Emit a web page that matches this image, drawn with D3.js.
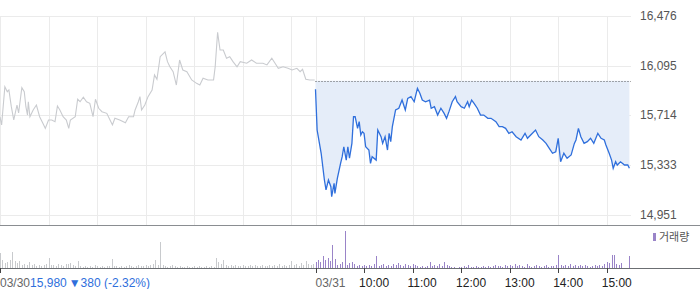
<!DOCTYPE html>
<html>
<meta charset="utf-8">
<title>Intraday</title>
<style>
body { margin: 0; background: #fff; }
svg { display: block; font-family: "Liberation Sans", Arial, sans-serif; }
.grid line { stroke: #ebebeb; stroke-width: 1px; shape-rendering: crispEdges; }
.yaxis text { fill: #555; font-size: 12px; }
</style>
<script src="https://d3js.org/d3.v7.min.js"></script>
<body>
<script>
// [minutes since 09:00, price]
const day1 = [[0,15702],[2,15641],[6,15934],[9,15896],[11,15909],[14,15781],[17,15679],[21,15794],[23,15733],[27,15927],[30,15896],[32,15781],[34,15717],[35,15819],[37,15704],[41,15756],[45,15794],[49,15704],[53,15654],[56,15615],[60,15679],[64,15679],[68,15666],[71,15786],[74,15756],[78,15704],[82,15679],[85,15615],[87,15679],[93,15704],[96,15838],[99,15819],[103,15853],[107,15819],[111,15807],[115,15704],[118,15838],[122,15769],[126,15743],[132,15730],[136,15679],[139,15641],[142,15692],[148,15679],[155,15658],[159,15704],[165,15704],[167,15756],[171,15819],[173,15858],[175,15756],[179,15794],[183,15858],[188,15909],[191,16024],[194,15991],[198,16164],[204,16202],[207,16126],[210,16087],[214,16049],[218,15947],[222,16139],[226,16062],[231,16049],[237,15986],[243,15960],[247,15947],[251,15999],[257,15986],[264,15986],[266,16087],[269,16351],[272,16215],[276,16215],[280,16152],[284,16164],[288,16126],[293,16087],[297,16126],[305,16114],[311,16139],[317,16114],[325,16114],[330,16101],[336,16152],[340,16114],[344,16075],[350,16087],[356,16075],[361,16062],[367,16075],[371,16049],[374,16068],[378,15991],[383,15986],[389,15986]];
const day2 = [[0,15914],[2,15602],[7,15424],[11,15219],[13,15143],[16,15219],[19,15168],[20,15091],[23,15194],[24,15117],[27,15232],[31,15347],[33,15398],[35,15474],[38,15372],[40,15474],[42,15386],[45,15500],[47,15704],[49,15704],[52,15615],[54,15666],[56,15564],[58,15589],[60,15577],[62,15474],[66,15449],[68,15347],[70,15398],[75,15372],[77,15602],[81,15551],[83,15500],[86,15551],[89,15449],[91,15577],[93,15513],[95,15628],[99,15756],[103,15769],[107,15832],[111,15756],[114,15845],[118,15858],[122,15819],[126,15922],[129,15884],[132,15832],[136,15819],[141,15832],[143,15769],[147,15781],[151,15717],[155,15769],[159,15730],[162,15692],[165,15743],[169,15819],[173,15858],[175,15819],[180,15781],[184,15769],[188,15819],[190,15781],[193,15832],[196,15807],[200,15769],[204,15717],[208,15717],[213,15692],[217,15692],[223,15666],[227,15628],[231,15628],[235,15615],[239,15577],[243,15589],[248,15551],[254,15526],[259,15577],[262,15539],[266,15564],[272,15602],[276,15551],[281,15526],[285,15500],[289,15462],[293,15424],[297,15436],[300,15539],[303,15359],[307,15424],[311,15386],[316,15411],[320,15500],[322,15526],[325,15615],[328,15551],[332,15500],[336,15513],[340,15539],[344,15500],[349,15577],[353,15539],[357,15526],[359,15487],[363,15424],[366,15372],[368,15309],[371,15359],[373,15334],[377,15359],[382,15334],[386,15334],[388,15309]];
// volume per 3-minute slot (thousand shares)
const vol1 = [150,80,50,60,80,160,70,50,70,30,40,30,60,30,40,20,30,20,30,40,100,30,30,20,40,30,20,40,40,50,30,20,70,20,10,20,10,20,10,30,20,10,20,10,20,20,90,20,20,10,20,10,20,30,20,10,20,30,20,20,30,20,30,40,80,30,260,30,20,10,20,30,20,10,20,10,10,20,10,10,20,10,20,10,10,20,10,20,10,100,60,40,80,30,20,30,20,30,20,20,30,20,20,30,20,30,20,20,30,20,20,30,20,30,20,40,20,30,20,30,70,30,40,20,50,30,70,40,30,40];
const vol2 = [60,80,60,120,80,100,70,230,90,30,40,60,370,30,50,60,40,20,30,20,30,20,30,20,40,120,20,30,40,20,30,20,40,30,50,30,20,40,30,20,40,30,20,10,20,10,20,60,20,30,20,40,20,60,30,20,10,10,0,10,10,20,10,30,10,10,20,10,10,20,10,20,10,20,30,20,20,10,30,20,30,20,40,20,30,20,10,40,20,10,20,30,20,10,20,30,10,20,20,30,130,30,20,30,20,40,20,30,20,30,20,30,20,10,20,30,20,30,20,40,60,50,130,130,40,30,50,0,0,120];
const yTicks = [14951, 15333, 15714, 16095, 16476];
const prevClose = 15980;
const dayLabels = ["03/30", "03/31"];
const hourLabels = ["10:00", "11:00", "12:00", "13:00", "14:00", "15:00"];
const changeText = "15,980";
const changeDelta = "▼380 (-2.32%)";
const volLabel = "거래량";

const W = 700, H = 289;
const plotRight = 631;
const dayLen = 390;

const x = d3.scaleLinear().domain([0, dayLen * 2]).range([0, plotRight]);
const y = d3.scaleLinear().domain([14951, 16476]).range([215, 16]);
const yv = d3.scaleLinear().domain([0, 370]).range([268, 231]);

const svg = d3.select("body").append("svg").attr("width", W).attr("height", H);

// grid
const grid = svg.append("g").attr("class", "grid");
const hourMarks = [];
for (let d = 0; d < 2; d++) for (let h = 0; h <= 6; h++) hourMarks.push(d * dayLen + h * 60);
grid.selectAll("line.v").data(hourMarks).join("line").attr("class", "v")
  .attr("x1", d => Math.round(x(d)) + 0.5).attr("x2", d => Math.round(x(d)) + 0.5)
  .attr("y1", 16).attr("y2", 225);
grid.selectAll("line.h").data(yTicks).join("line").attr("class", "h")
  .attr("x1", 0).attr("x2", plotRight)
  .attr("y1", d => Math.round(y(d)) + 0.5).attr("y2", d => Math.round(y(d)) + 0.5);

// right axis labels
svg.append("g").attr("class", "yaxis").selectAll("text").data(yTicks).join("text")
  .attr("x", 640).attr("y", d => y(d) + 4)
  .text(d3.format(","));

// day 2 area to previous close
const d2 = day2.map(([m, p]) => [m + dayLen, p]);
svg.append("path").datum(d2)
  .attr("fill", "#e5edf9")
  .attr("d", d3.area().x(d => x(d[0])).y0(y(prevClose)).y1(d => y(d[1])));

svg.append("line")
  .attr("x1", x(dayLen)).attr("x2", plotRight)
  .attr("y1", Math.round(y(prevClose)) + 0.5).attr("y2", Math.round(y(prevClose)) + 0.5)
  .attr("stroke", "#555").attr("stroke-dasharray", "1,2");

const line = d3.line().x(d => x(d[0])).y(d => y(d[1]));
svg.append("path").datum(day1).attr("fill", "none")
  .attr("stroke", "#c9cbcf").attr("stroke-width", 1.1).attr("d", line);
svg.append("path").datum(d2).attr("fill", "none")
  .attr("stroke", "#2f6fdc").attr("stroke-width", 1.3).attr("d", line);

// separators
svg.append("line").attr("x1", 0).attr("x2", W).attr("y1", 225.5).attr("y2", 225.5)
  .attr("stroke", "#8a8d91");

// volume bars
const bars = svg.append("g").attr("shape-rendering", "crispEdges");
bars.selectAll("rect.v1").data(vol1).join("rect").attr("class", "v1")
  .attr("x", (d, i) => Math.round(x(i * 3))).attr("width", 1)
  .attr("y", d => yv(d)).attr("height", d => yv(0) - yv(d))
  .attr("fill", "#c8cacd");
bars.selectAll("rect.v2").data(vol2).join("rect").attr("class", "v2")
  .attr("x", (d, i) => Math.round(x(dayLen + i * 3))).attr("width", 1)
  .attr("y", d => yv(d)).attr("height", d => yv(0) - yv(d))
  .attr("fill", "#9a84c8");

svg.append("line").attr("x1", 0).attr("x2", W).attr("y1", 268.5).attr("y2", 268.5)
  .attr("stroke", "#6b6e72");

// x ticks
const tickMarks = [0, dayLen].concat(hourLabels.map((_, i) => dayLen + (i + 1) * 60));
svg.selectAll("line.tk").data(tickMarks).join("line").attr("class", "tk")
  .attr("x1", d => Math.round(x(d)) + 0.5).attr("x2", d => Math.round(x(d)) + 0.5)
  .attr("y1", 268).attr("y2", 273).attr("stroke", "#444");

const lab = svg.append("text").attr("x", 0).attr("y", 287).attr("font-size", 12);
lab.append("tspan").attr("fill", "#666").text(dayLabels[0]);
lab.append("tspan").attr("fill", "#2f6fdc").text(changeText);
lab.append("tspan").attr("fill", "#2f6fdc").attr("dx", 2).text(changeDelta);

svg.append("text").attr("x", x(dayLen)).attr("y", 287).attr("font-size", 12)
  .attr("fill", "#666").text(dayLabels[1]);
svg.selectAll("text.hr").data(hourLabels).join("text").attr("class", "hr")
  .attr("x", (d, i) => x(dayLen + (i + 1) * 60) - 5).attr("y", 287)
  .attr("font-size", 12).attr("fill", "#222").text(d => d);

// legend
svg.append("rect").attr("x", 653).attr("y", 233).attr("width", 3).attr("height", 8).attr("fill", "#9a84c8");
svg.append("text").attr("x", 659).attr("y", 241).attr("font-size", 11)
  .attr("font-family", "'Noto Sans CJK KR', sans-serif").attr("fill", "#555").text(volLabel);
</script>
</body>
</html>
